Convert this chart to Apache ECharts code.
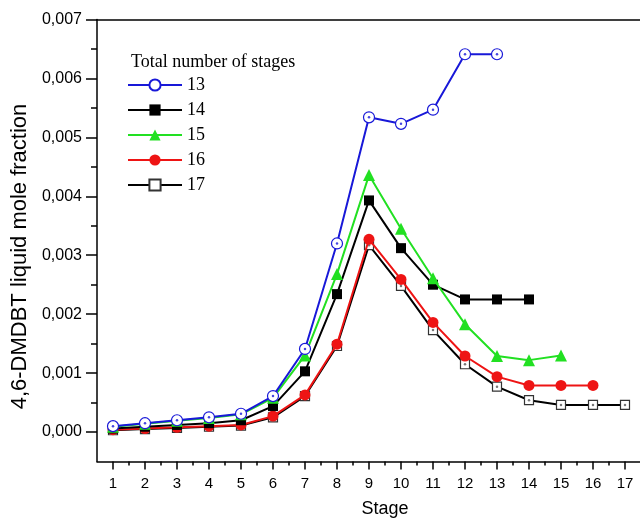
<!DOCTYPE html>
<html>
<head>
<meta charset="utf-8">
<script src="https://cdn.jsdelivr.net/npm/echarts@6/dist/echarts.min.js"></script>
<style>
  html, body { margin: 0; padding: 0; background: #fff; }
  #chart { width: 640px; height: 519px; }
</style>
</head>
<body>
<div id="chart"></div>
<script>
// Stage numbers and tick positions
const stageTicks = [1, 2, 3, 4, 5, 6, 7, 8, 9, 10, 11, 12, 13, 14, 15, 16, 17];
const stageMinorTicks = [1.5, 2.5, 3.5, 4.5, 5.5, 6.5, 7.5, 8.5, 9.5, 10.5, 11.5, 12.5, 13.5, 14.5, 15.5, 16.5];
const fractionTicks = [0, 0.001, 0.002, 0.003, 0.004, 0.005, 0.006, 0.007];
const fractionMinorTicks = [0.0005, 0.0015, 0.0025, 0.0035, 0.0045, 0.0055, 0.0065];

// Liquid mole fraction of 4,6-DMDBT on each stage, one list per column size
const stages13 = [0.00010, 0.00015, 0.00020, 0.00025, 0.00031, 0.00061, 0.00141, 0.00320, 0.00534, 0.00523, 0.00547, 0.00641, 0.00641];
const stages14 = [0.00006, 0.00009, 0.00012, 0.00015, 0.00020, 0.00044, 0.00103, 0.00234, 0.00393, 0.00312, 0.00250, 0.00225, 0.00225, 0.00225];
const stages15 = [0.00009, 0.00014, 0.00019, 0.00024, 0.00030, 0.00058, 0.00130, 0.00268, 0.00436, 0.00345, 0.00261, 0.00183, 0.00129, 0.00122, 0.00130];
const stages16 = [0.00004, 0.00006, 0.00008, 0.00010, 0.00012, 0.00027, 0.00063, 0.00149, 0.00327, 0.00259, 0.00186, 0.00129, 0.00094, 0.00079, 0.00079, 0.00079];
const stages17 = [0.00003, 0.00005, 0.00007, 0.00009, 0.00011, 0.00025, 0.00061, 0.00146, 0.00317, 0.00248, 0.00173, 0.00115, 0.00077, 0.00054, 0.00046, 0.00046, 0.00046];

const toPairs = arr => arr.map((v, i) => [stageTicks[i], v]);
const commaFmt = v => v.toFixed(3).replace('.', ',');

const sans = 'Liberation Sans, Arial, sans-serif';
const serif = 'Liberation Serif, Times New Roman, serif';

const BLUE = '#1818d8';
const GREEN = '#22e022';
const RED = '#ee1414';

function lineSeries(name, values, color, symbol, size, itemStyle, z) {
  return {
    name: name,
    type: 'line',
    data: toPairs(values),
    symbol: symbol,
    symbolSize: size,
    showAllSymbol: true,
    z: z,
    lineStyle: { color: color, width: 2 },
    itemStyle: itemStyle,
    emphasis: { disabled: true },
    animation: false
  };
}

// tiny dot drawn in the centre of the hollow markers
function centreDots(values, color, z) {
  return {
    type: 'scatter',
    data: toPairs(values),
    symbol: 'circle',
    symbolSize: 2.5,
    z: z,
    itemStyle: { color: color },
    emphasis: { disabled: true },
    silent: true,
    animation: false
  };
}

const chart = echarts.init(document.getElementById('chart'), null, { renderer: 'canvas' });

const axisLine = { show: true, onZero: false, lineStyle: { color: '#000', width: 1.5 } };
const tickLine = { color: '#000', width: 1.5 };

chart.setOption({
  backgroundColor: '#fff',
  animation: false,
  grid: {
    left: 97, right: -1, top: 19.5, bottom: 57.5,
    containLabel: false, outerBoundsMode: 'none'
  },
  xAxis: [
    {
      type: 'value', min: 0.5, max: 17.5, position: 'bottom',
      name: 'Stage', nameLocation: 'middle', nameGap: 39,
      nameTextStyle: { fontFamily: sans, fontSize: 18, color: '#000', padding: [0, 0, 0, 32] },
      axisLine: axisLine,
      splitLine: { show: false },
      axisTick: { show: true, length: 8, customValues: stageTicks, lineStyle: tickLine },
      axisLabel: { customValues: stageTicks, fontFamily: sans, fontSize: 15, color: '#000', margin: 15 }
    },
    {
      type: 'value', min: 0.5, max: 17.5, position: 'bottom',
      axisLine: { show: false, onZero: false },
      splitLine: { show: false },
      axisTick: { show: true, length: 4, customValues: stageMinorTicks, lineStyle: tickLine },
      axisLabel: { show: false }
    },
    {
      type: 'value', min: 0.5, max: 17.5, position: 'top',
      axisLine: axisLine,
      splitLine: { show: false },
      axisTick: { show: false },
      axisLabel: { show: false }
    }
  ],
  yAxis: [
    {
      type: 'value', min: -0.0005, max: 0.007, position: 'left',
      name: '4,6-DMDBT liquid mole fraction', nameLocation: 'middle', nameGap: 58, nameRotate: 90,
      nameTextStyle: { fontFamily: sans, fontSize: 22, color: '#000', padding: [0, 32, 0, 0] },
      axisLine: axisLine,
      splitLine: { show: false },
      axisTick: { show: true, length: 11, customValues: fractionTicks, lineStyle: tickLine },
      axisLabel: { customValues: fractionTicks, formatter: commaFmt, fontFamily: sans, fontSize: 16, color: '#000', margin: 15 }
    },
    {
      type: 'value', min: -0.0005, max: 0.007, position: 'left',
      axisLine: { show: false, onZero: false },
      splitLine: { show: false },
      axisTick: { show: true, length: 6, customValues: fractionMinorTicks, lineStyle: tickLine },
      axisLabel: { show: false }
    }
  ],
  title: {
    text: 'Total number of stages',
    left: 126, top: 48,
    textStyle: { fontFamily: serif, fontSize: 18, fontWeight: 'normal', color: '#000' }
  },
  legend: {
    orient: 'vertical',
    left: 127, top: 76, padding: 0,
    itemWidth: 54, itemHeight: 14, itemGap: 7,
    selectedMode: false,
    textStyle: { fontFamily: serif, fontSize: 18, color: '#000' },
    data: ['13', '14', '15', '16', '17']
  },
  series: [
    lineSeries('17', stages17, '#000', 'rect', 9, { color: '#fff', borderColor: '#333', borderWidth: 1.2 }, 2),
    centreDots(stages17, '#555', 2),
    lineSeries('16', stages16, RED, 'circle', 11, { color: RED }, 3),
    lineSeries('14', stages14, '#000', 'rect', 10, { color: '#000' }, 4),
    lineSeries('15', stages15, GREEN, 'triangle', 12, { color: GREEN }, 5),
    lineSeries('13', stages13, BLUE, 'circle', 11, { color: '#fff', borderColor: BLUE, borderWidth: 1.2 }, 6),
    centreDots(stages13, BLUE, 6)
  ]
});
</script>
</body>
</html>
